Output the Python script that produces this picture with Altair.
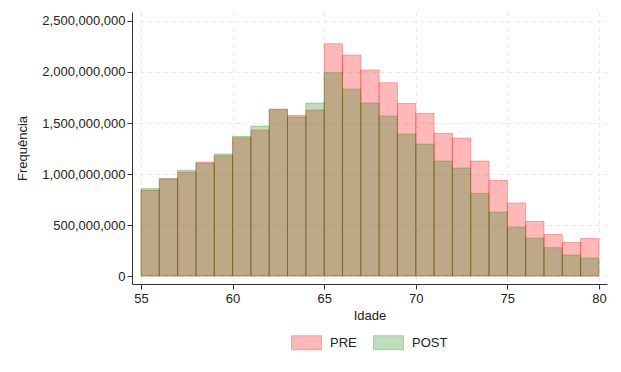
import altair as alt
import pandas as pd

ages = list(range(55, 80))
pre_millions = [843, 954, 1020, 1118, 1180, 1356, 1431, 1637, 1575, 1627,
                2278, 2167, 2020, 1895, 1693, 1595, 1399, 1353, 1127, 938,
                716, 536, 408, 330, 369]
post_millions = [859, 954, 1036, 1105, 1196, 1369, 1471, 1631, 1559, 1696,
                 1993, 1833, 1696, 1569, 1392, 1294, 1127, 1059, 810, 627,
                 480, 373, 278, 206, 176]
groups = ["PRE", "POST"]
x_ticks = [55, 60, 65, 70, 75, 80]
y_ticks = [0, 500000000, 1000000000, 1500000000, 2000000000, 2500000000]

rows = []
for g, vals in zip(groups, [pre_millions, post_millions]):
    for a, v in zip(ages, vals):
        rows.append({"group": g, "age": a, "age_end": a + 1,
                     "freq": v * 1e6, "base": 0})
df = pd.DataFrame(rows)

cscale = alt.Scale(domain=groups,
                   range=["rgba(255,0,0,0.28)", "rgba(0,128,0,0.26)"])

chart = alt.Chart(df).mark_rect(strokeWidth=1).encode(
    x=alt.X("age:Q", title="Idade",
            scale=alt.Scale(domain=[54.51, 80.44], nice=False, zero=False),
            axis=alt.Axis(values=x_ticks, format="d", grid=True,
                          gridDash=[4, 4], gridColor="#e8e8e8",
                          domainColor="#333", tickColor="#333",
                          tickSize=5, labelPadding=3, titlePadding=4)),
    x2="age_end:Q",
    y=alt.Y("freq:Q", title="Frequência",
            scale=alt.Scale(domain=[-78e6, 2588e6], nice=False, zero=False),
            axis=alt.Axis(values=y_ticks, format=",.0f", grid=True,
                          gridDash=[4, 4], gridColor="#e8e8e8",
                          domainColor="#333", tickColor="#333",
                          tickSize=5, labelPadding=2, titlePadding=12)),
    y2="base:Q",
    color=alt.Color("group:N", scale=cscale, sort=groups,
                    legend=alt.Legend(title=None, orient="none",
                                      direction="horizontal",
                                      legendX=159, legendY=315,
                                      symbolType="M-1,-0.47H1V0.47H-1Z",
                                      symbolSize=900, symbolStrokeWidth=1,
                                      labelFontSize=13, labelOffset=8,
                                      columnPadding=14)),
    stroke=alt.Stroke("group:N", scale=cscale, sort=groups, legend=None),
    order=alt.Order("ord:Q"),
).transform_calculate(
    ord="datum.group == 'PRE' ? 0 : 1"
).properties(
    width=475, height=272,
    autosize=alt.AutoSizeParams(type="none"),
    padding={"left": 124, "top": 4, "right": 6, "bottom": 80},
).configure(
    font="Liberation Sans",
    background="white",
).configure_axis(
    labelFontSize=13, titleFontSize=13, labelColor="#222",
    titleColor="#222", titleFontWeight="normal", domainWidth=1,
).configure_view(
    stroke=None,
).configure_legend(
    labelColor="#222",
)

chart.save("out.html", embed_options={"renderer": "svg", "actions": False})
